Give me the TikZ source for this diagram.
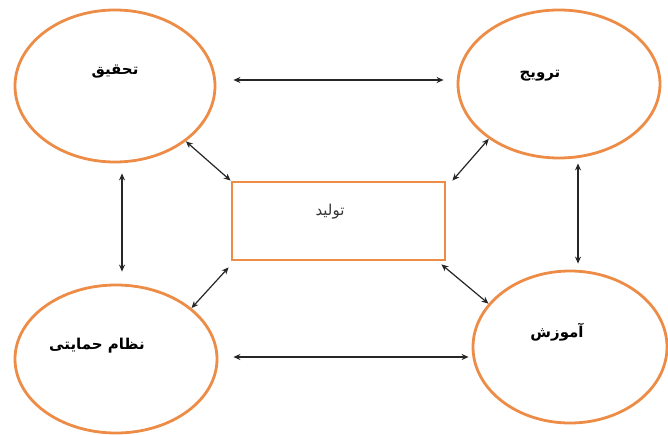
\documentclass[tikz,border=0pt]{standalone}
\usepackage{fontspec}
\usetikzlibrary{shapes.geometric,arrows.meta}
\TeXXeTstate=1
\newfontfamily\arabicfont[Script=Arabic]{DejaVu Sans}
\definecolor{boxorange}{RGB}{237,140,70}
\tikzset{
  oval/.style={ellipse, draw=boxorange, line width=2.8pt, inner sep=0pt},
  label/.style={font=\arabicfont\bfseries\fontsize{15}{17}\selectfont},
  link/.style={draw=black!85, line width=1.2pt, {Stealth[length=7pt,width=6pt]}-{Stealth[length=7pt,width=6pt]}}
}
\begin{document}
\begin{tikzpicture}[x=1pt,y=-1pt]
\useasboundingbox (0,0) rectangle (668,435);
\node[oval, minimum width=200pt, minimum height=152pt] (tl) at (115,86) {};
\node[oval, minimum width=202pt, minimum height=148pt] (tr) at (559,84) {};
\node[oval, minimum width=202pt, minimum height=148pt] (bl) at (116,359) {};
\node[oval, minimum width=194pt, minimum height=152pt] (br) at (570,347) {};
\node[draw=boxorange, line width=2.8pt, minimum width=213pt, minimum height=78pt, inner sep=0pt] (c) at (338.5,221) {};
\node[label] at (115,72) {\beginR تحقیق\endR};
\node[label] at (540,76) {\beginR ترویج\endR};
\node[label] at (97,346) {\beginR نظام حمایتی\endR};
\node[label] at (557,332) {\beginR آموزش\endR};
\node[font=\arabicfont\fontsize{15}{17}\selectfont, text=black!80] at (330,212) {\beginR تولید\endR};
% horizontal and vertical links
\draw[link] ([xshift=17pt]tl.east |- 0,80) -- ([xshift=-13pt]tr.west |- 0,80);
\draw[link] ([xshift=15pt]bl.east |- 0,357) -- ([xshift=-3pt]br.west |- 0,357);
\draw[link] ([yshift=-10pt]tl.south -| 122,0) -- ([yshift=12pt]bl.north -| 122,0);
\draw[link] ([yshift=-4pt]tr.south -| 578,0) -- ([yshift=6pt]br.north -| 578,0);
% diagonal links
\draw[link] (tl.-38) -- (c.north west);
\draw[link] (tr.218) -- ([xshift=6pt,yshift=0pt]c.north east);
\draw[link] (bl.34) -- ([xshift=-2pt,yshift=-6pt]c.south west);
\draw[link] (br.152) -- ([xshift=-5pt,yshift=-3pt]c.south east);
\end{tikzpicture}
\end{document}
